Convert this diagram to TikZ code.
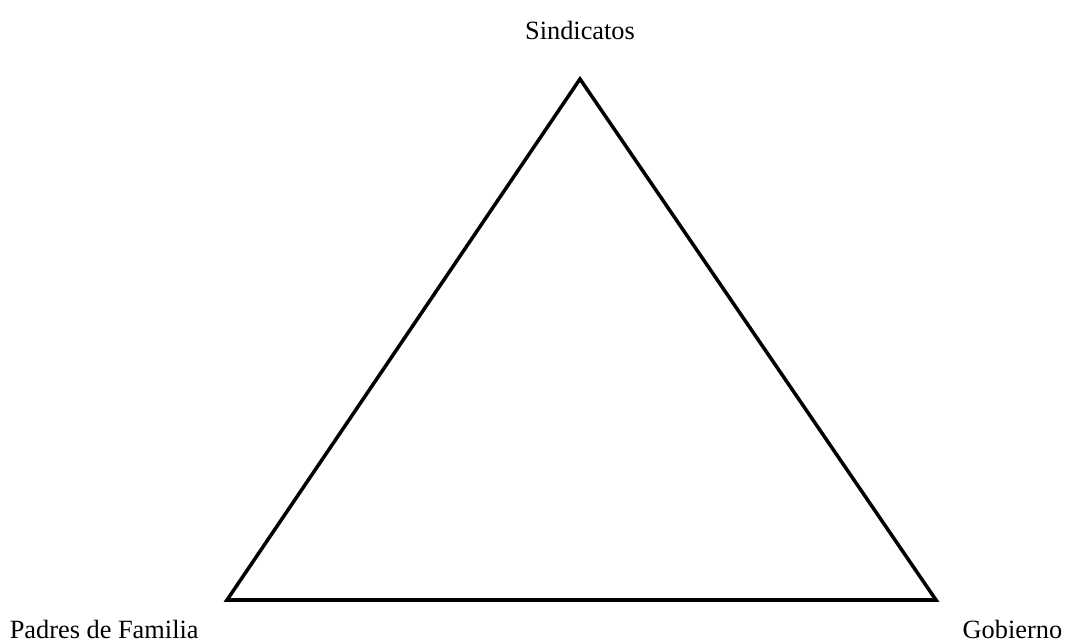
\documentclass[tikz,border=0pt]{standalone}
\usepackage{fontspec}
\setmainfont{Liberation Serif}
\begin{document}
\begin{tikzpicture}[x=0.02cm, y=-0.02cm, line width=2pt,
    actor/.style={font=\fontsize{15}{18}\selectfont, inner sep=0pt}]
    \useasboundingbox (0, 0) rectangle (1069, 642);

    % Vertices of the triangle
    \coordinate (top) at (580, 79);
    \coordinate (left) at (227, 600);
    \coordinate (right) at (936, 600);
    \draw[line join=miter] (top) -- (left) -- (right) -- cycle;

    % Labels (one per vertex)
    \node[actor, anchor=base] (sind) at (580, 40) {Sindicatos};
    \node[actor, anchor=base west] (padres) at (8, 638) {Padres de Familia};
    \node[actor, anchor=base east] (gob) at (1064, 638) {Gobierno};
\end{tikzpicture}
\end{document}
